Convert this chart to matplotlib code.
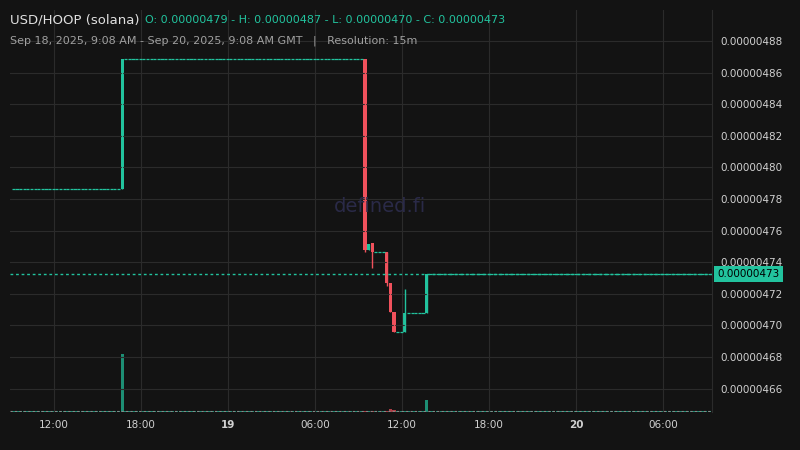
import numpy as np
import pandas as pd
import matplotlib
matplotlib.use('Agg')
import matplotlib.pyplot as plt
import matplotlib.dates as mdates

# candles that moved (time, open, high, low, close), in 1e-8 units; others are flat at prior close
start_price = 478.63
move_times = ['2025-09-18 16:30', '2025-09-19 09:15', '2025-09-19 09:30', '2025-09-19 09:45',
              '2025-09-19 10:45', '2025-09-19 11:00', '2025-09-19 11:15', '2025-09-19 12:00',
              '2025-09-19 13:30']
move_open = [478.63, 486.86, 474.77, 475.20, 474.68, 472.68, 470.85, 469.58, 470.80]
move_high = [486.86, 486.86, 475.15, 475.20, 474.68, 472.68, 470.85, 472.30, 473.25]
move_low = [478.63, 474.65, 474.77, 473.63, 472.50, 470.85, 469.58, 469.58, 470.80]
move_close = [486.86, 474.77, 475.15, 474.68, 472.68, 470.85, 469.58, 470.80, 473.25]
move_vol = [58, 1, 1, 1, 1, 3, 2, 1, 12]
last_price = 473.25

UP = '#22c39e'
DOWN = '#f0515c'
BG = '#131313'
GRID = '#2b2b2b'

times = pd.date_range('2025-09-18 09:00', '2025-09-20 09:00', freq='15min')
moves = {pd.Timestamp(t): i for i, t in enumerate(move_times)}
o, h, l, c, v = [], [], [], [], []
prev = start_price
for t in times:
    if t in moves:
        i = moves[t]
        o.append(move_open[i]); h.append(move_high[i]); l.append(move_low[i]); c.append(move_close[i]); v.append(move_vol[i])
    else:
        o.append(prev); h.append(prev); l.append(prev); c.append(prev); v.append(0.6)
    prev = c[-1]

fig = plt.figure(figsize=(8, 4.5), dpi=100, facecolor=BG)
ax = fig.add_axes([0.0125, 0.0844, 0.8775, 0.893], facecolor=BG)
axv = ax.twinx()
axv.set_zorder(0)
ax.set_zorder(1)
ax.patch.set_visible(False)
fig.patch.set_facecolor(BG)

xs = mdates.date2num(times) + 12 / 1440
w = 13 / 1440
for x, oo, hh, ll, cc, vv in zip(xs, o, h, l, c, v):
    col = UP if cc >= oo else DOWN
    if hh == ll:
        ax.plot([x - w / 2, x + w / 2], [cc, cc], color=col, lw=0.9, solid_capstyle='butt')
    else:
        ax.vlines(x, ll, hh, color=col, lw=1)
        body = max(abs(cc - oo), 0.08)
        ax.bar(x, body, bottom=min(oo, cc), width=w, color=col, lw=0)
    axv.bar(x, vv, width=w, color=col, alpha=0.7, lw=0)

axv.set_ylim(0, 400)
axv.axis('off')

ax.set_ylim(464.52, 489.96)
ax.set_xlim(mdates.datestr2num('2025-09-18 08:58'), mdates.datestr2num('2025-09-20 09:23'))
ax.axhline(last_price, color=UP, lw=1, ls=(0, (2, 2)))

yt = np.arange(466, 489, 2)
ax.set_yticks(yt)
ax.yaxis.tick_right()
ax.set_yticklabels(['%.8f' % (t * 1e-8) for t in yt], color='#d0d0d0', fontsize=7.5)
ax.text(1.008, last_price, '%.8f' % (473 * 1e-8), transform=ax.get_yaxis_transform(),
        fontsize=7.5, color='black', va='center', ha='left',
        bbox=dict(boxstyle='square,pad=0.3', fc=UP, ec='none'))

xt = ['2025-09-18 12:00', '2025-09-18 18:00', '2025-09-19 00:00', '2025-09-19 06:00',
      '2025-09-19 12:00', '2025-09-19 18:00', '2025-09-20 00:00', '2025-09-20 06:00']
xl = ['12:00', '18:00', '19', '06:00', '12:00', '18:00', '20', '06:00']
ax.set_xticks(mdates.datestr2num(xt))
ax.set_xticklabels(xl, color='#d0d0d0', fontsize=7.5)
for lab in ax.get_xticklabels():
    if lab.get_text() in ('19', '20'):
        lab.set_fontweight('bold')
ax.tick_params(length=0, pad=6)
ax.grid(True, color=GRID, lw=0.8)
for s in ['top', 'left', 'bottom']:
    ax.spines[s].set_visible(False)
ax.spines['right'].set_color(GRID)
ax.axhline(464.6, color='#888888', lw=0.8, ls=(0, (2, 2)))

fig.text(0.0125, 0.955, 'USD/HOOP (solana)', color='#e0e0e0', fontsize=9.5, va='center')
fig.text(0.181, 0.955, 'O: 0.00000479 - H: 0.00000487 - L: 0.00000470 - C: 0.00000473',
         color=UP, fontsize=8, va='center')
fig.text(0.0125, 0.91, 'Sep 18, 2025, 9:08 AM - Sep 20, 2025, 9:08 AM GMT   |   Resolution: 15m',
         color='#a0a0a0', fontsize=8, va='center')
fig.text(0.475, 0.54, 'defined.fi', color='#2a2a48', fontsize=14, ha='center', va='center')

fig.savefig('out.png', dpi=100, facecolor=BG)
